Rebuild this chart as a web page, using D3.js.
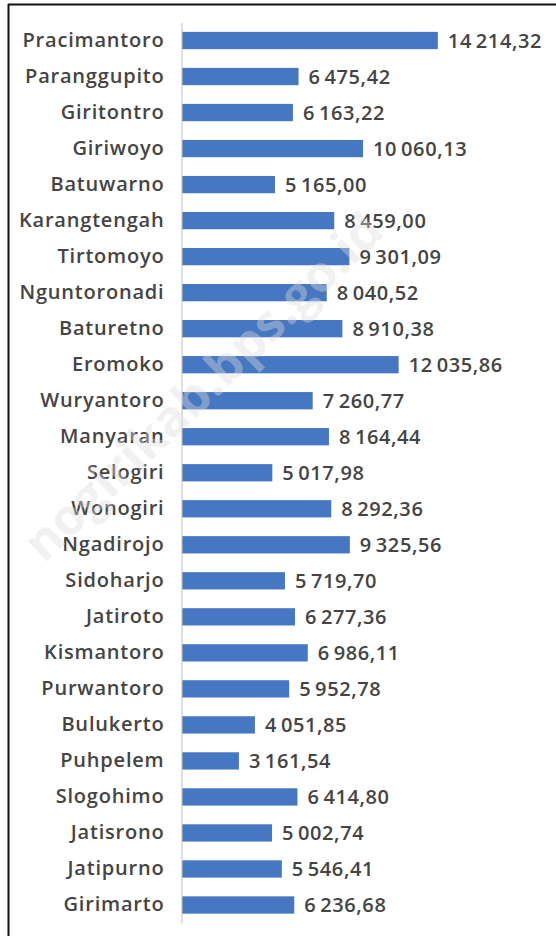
<html lang="en">
<head>
  <meta charset="UTF-8"/>
  <title>Wonogiri bar chart</title>
  <script src="https://d3js.org/d3.v7.min.js"></script>
  <style>
    body { margin: 0; background: #fff; }
    svg { display: block; }
    text { font-family: 'Open Sans', sans-serif; fill: #444; }
    .axis path { stroke: #bfbfbf; }
    .axis text { font-size: 20px; font-weight: 600; letter-spacing: 0.8px; }
    text.value { font-size: 20px; font-weight: 600; letter-spacing: 0.6px; }
    text.watermark { font-size: 50px; font-weight: 700; fill: #dcdcdc; fill-opacity: 0.4; }
  </style>
</head>
<body>
<svg width="556" height="936"></svg>
<script>
  const categories = ['Pracimantoro', 'Paranggupito', 'Giritontro', 'Giriwoyo', 'Batuwarno',
    'Karangtengah', 'Tirtomoyo', 'Nguntoronadi', 'Baturetno', 'Eromoko', 'Wuryantoro',
    'Manyaran', 'Selogiri', 'Wonogiri', 'Ngadirojo', 'Sidoharjo', 'Jatiroto', 'Kismantoro',
    'Purwantoro', 'Bulukerto', 'Puhpelem', 'Slogohimo', 'Jatisrono', 'Jatipurno', 'Girimarto'];
  const values = [14214.32, 6475.42, 6163.22, 10060.13, 5165.00,
    8459.00, 9301.09, 8040.52, 8910.38, 12035.86, 7260.77,
    8164.44, 5017.98, 8292.36, 9325.56, 5719.70, 6277.36, 6986.11,
    5952.78, 4051.85, 3161.54, 6414.80, 5002.74, 5546.41, 6236.68];

  const svg = d3.select('svg');
  const data = categories.map((c, i) => ({ name: c, value: values[i] }));

  const xScale = d3.scaleLinear().domain([0, 15000]).range([182, 452]);
  const yScale = d3.scaleBand()
    .domain(categories)
    .range([22.5, 923])
    .paddingInner(0.52)
    .paddingOuter(0.26);

  const locale = d3.formatLocale({ decimal: ',', thousands: '\u2009', grouping: [3], currency: ['', ''] });
  const fmt = locale.format(',.2f');

  // frame (only top and left edge visible in the original)
  svg.append('line').attr('x1', 8.5).attr('y1', 4).attr('x2', 8.5).attr('y2', 936)
    .attr('stroke', '#111').attr('stroke-width', 2);
  svg.append('line').attr('x1', 8).attr('y1', 4.5).attr('x2', 556).attr('y2', 4.5)
    .attr('stroke', '#111').attr('stroke-width', 2);

  svg.selectAll('rect.bar')
    .data(data)
    .enter()
    .append('rect')
    .attr('class', 'bar')
    .attr('x', xScale(0))
    .attr('y', (d) => yScale(d.name))
    .attr('width', (d) => xScale(d.value) - xScale(0))
    .attr('height', yScale.bandwidth())
    .attr('fill', '#4677c2');

  svg.append('g')
    .attr('class', 'axis')
    .attr('transform', `translate(${xScale(0) - 0.5}, 0)`)
    .call(d3.axisLeft(yScale).tickSize(0).tickPadding(17).tickSizeOuter(0))
    .call((g) => g.selectAll('text').attr('fill', '#444'));

  svg.selectAll('text.value')
    .data(data)
    .enter()
    .append('text')
    .attr('class', 'value')
    .attr('x', (d) => xScale(d.value) + 10)
    .attr('y', (d) => yScale(d.name) + yScale.bandwidth() / 2)
    .attr('dy', '0.35em')
    .text((d) => fmt(d.value));

  // watermark (its first letters fall outside the crop in the original)
  svg.append('text')
    .attr('class', 'watermark')
    .attr('text-anchor', 'end')
    .attr('transform', 'translate(386, 234) rotate(-44)')
    .text('nogirikab.bps.go.id');
</script>
</body>
</html>
